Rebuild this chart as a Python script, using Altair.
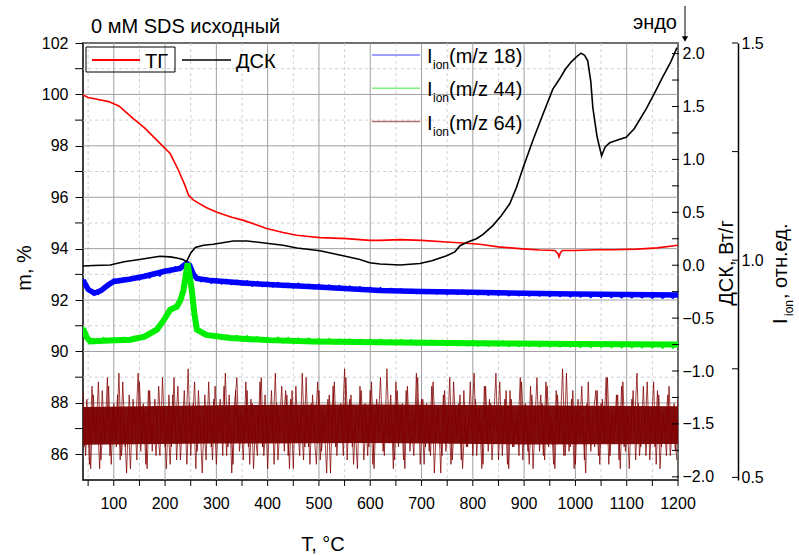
import altair as alt
import pandas as pd

# ---------------- data ----------------
# TG, mass %
tg_T = [40, 50, 70, 90, 110, 138, 160, 180, 195, 210, 226, 238, 246, 255, 262, 280, 301, 330, 353, 375,
        398, 430, 457, 480, 502, 554, 599, 619, 658, 700, 749, 780, 813, 850, 891, 930, 960, 966, 968, 971,
        975, 1000, 1040, 1073, 1120, 1160, 1200]
tg_m = [99.98, 99.88, 99.80, 99.72, 99.55, 99.06, 98.70, 98.30, 98.00, 97.70, 97.05, 96.50, 96.07, 95.90, 95.81, 95.60, 95.42, 95.22, 95.10, 94.95,
        94.78, 94.63, 94.52, 94.47, 94.43, 94.39, 94.32, 94.32, 94.35, 94.32, 94.26, 94.22, 94.17, 94.07, 94.00, 93.95, 93.93, 93.80, 93.68, 93.85,
        93.93, 93.93, 93.96, 93.96, 93.98, 94.03, 94.13]

# DSC, W/g
dsc_T = [40, 60, 93, 120, 150, 190, 210, 223, 235, 242, 250, 259, 275, 294, 333, 360, 398, 430, 457, 502,
         547, 580, 599, 619, 658, 697, 720, 749, 765, 775, 790, 807, 820, 839, 855, 872, 885, 898, 917, 935,
         956, 970, 980, 992, 1003, 1011, 1018, 1024, 1030, 1034, 1042, 1051, 1058, 1067, 1085, 1099, 1115, 1138, 1155, 1170,
         1185, 1198]
dsc_v = [-0.008, -0.003, 0.002, 0.033, 0.054, 0.085, 0.079, 0.068, 0.054, 0.033, 0.116, 0.167, 0.188, 0.198, 0.229, 0.229, 0.208, 0.188, 0.162, 0.136,
         0.090, 0.054, 0.023, 0.012, 0.002, 0.016, 0.043, 0.090, 0.126, 0.184, 0.219, 0.250, 0.291, 0.374, 0.466, 0.580, 0.735, 0.920, 1.178, 1.406,
         1.664, 1.767, 1.849, 1.922, 1.973, 2.004, 1.983, 1.932, 1.736, 1.488, 1.220, 1.034, 1.117, 1.158, 1.189, 1.209, 1.292, 1.478, 1.633, 1.777,
         1.911, 2.056]

# Ion current m/z 18: smooth course + noisy trace (10 °C sampling from 40 °C)
ms18_T = [40, 50, 62, 75, 90, 100, 130, 160, 197, 229, 242, 248, 255, 262, 290, 359, 420, 489, 550, 619,
          700, 800, 898, 1000, 1100, 1200]
ms18_v = [0.954, 0.933, 0.924, 0.930, 0.944, 0.951, 0.956, 0.963, 0.974, 0.981, 0.993, 0.988, 0.968, 0.958, 0.953, 0.947, 0.943, 0.939, 0.935, 0.930,
          0.928, 0.926, 0.924, 0.922, 0.921, 0.920]
ms18_noisy = [
    0.958, 0.929, 0.931, 0.921, 0.941, 0.938, 0.957, 0.948, 0.960, 0.951,
    0.963, 0.954, 0.968, 0.959, 0.973, 0.963, 0.980, 0.971, 0.985, 0.976,
    0.997, 0.980, 0.966, 0.950, 0.960, 0.947, 0.958, 0.945, 0.956, 0.944,
    0.954, 0.942, 0.953, 0.940, 0.951, 0.939, 0.950, 0.938, 0.949, 0.937,
    0.947, 0.936, 0.947, 0.935, 0.945, 0.934, 0.945, 0.933, 0.943, 0.932,
    0.942, 0.930, 0.941, 0.929, 0.939, 0.928, 0.938, 0.927, 0.937, 0.926,
    0.935, 0.925, 0.934, 0.924, 0.933, 0.923, 0.933, 0.923, 0.932, 0.922,
    0.932, 0.921, 0.931, 0.921, 0.931, 0.920, 0.930, 0.920, 0.930, 0.919,
    0.929, 0.919, 0.929, 0.918, 0.928, 0.918, 0.928, 0.917, 0.927, 0.917,
    0.927, 0.916, 0.926, 0.916, 0.926, 0.915, 0.925, 0.915, 0.925, 0.914,
    0.924, 0.914, 0.924, 0.914, 0.923, 0.913, 0.923, 0.913, 0.922, 0.913,
    0.922, 0.912, 0.922, 0.912, 0.921, 0.912, 0.921]

# Ion current m/z 44
ms44_T = [40, 47, 54, 90, 132, 160, 184, 198, 210, 223, 230, 236, 240, 244, 248, 252, 257, 262, 280, 327,
          400, 489, 619, 800, 1000, 1200]
ms44_v = [0.843, 0.823, 0.813, 0.815, 0.817, 0.824, 0.840, 0.863, 0.886, 0.893, 0.908, 0.932, 0.963, 0.993, 0.963, 0.932, 0.878, 0.840, 0.828, 0.821,
          0.816, 0.813, 0.811, 0.809, 0.807, 0.806]
ms44_noisy = [
    0.848, 0.818, 0.820, 0.809, 0.822, 0.811, 0.821, 0.812, 0.823, 0.811,
    0.825, 0.817, 0.830, 0.826, 0.843, 0.846, 0.872, 0.881, 0.898, 0.904,
    0.965, 0.945, 0.852, 0.830, 0.834, 0.822, 0.831, 0.818, 0.828, 0.815,
    0.827, 0.814, 0.826, 0.813, 0.824, 0.812, 0.823, 0.811, 0.823, 0.810,
    0.822, 0.809, 0.821, 0.809, 0.821, 0.808, 0.820, 0.808, 0.820, 0.807,
    0.819, 0.807, 0.819, 0.806, 0.818, 0.806, 0.818, 0.806, 0.818, 0.805,
    0.817, 0.805, 0.817, 0.805, 0.817, 0.804, 0.816, 0.804, 0.816, 0.804,
    0.816, 0.803, 0.815, 0.803, 0.815, 0.803, 0.815, 0.802, 0.814, 0.802,
    0.814, 0.802, 0.814, 0.801, 0.813, 0.801, 0.813, 0.801, 0.813, 0.800,
    0.812, 0.800, 0.812, 0.800, 0.812, 0.800, 0.811, 0.799, 0.811, 0.799,
    0.811, 0.799, 0.811, 0.799, 0.810, 0.798, 0.810, 0.798, 0.810, 0.798,
    0.809, 0.798, 0.809, 0.797, 0.809, 0.797, 0.808]
noisy_T = [40 + 10 * i for i in range(len(ms18_noisy))]

# Ion current m/z 64: dense core band + spikes (two interleaved 5 °C samplings)
ms64_band_T = [40, 300, 600, 900, 1200]
ms64_lo = [0.575, 0.578, 0.579, 0.576, 0.577]
ms64_hi = [0.662, 0.666, 0.668, 0.666, 0.664]
ms64_spikes_a = [
    0.70, 0.55, 0.66, 0.52, 0.69, 0.58, 0.72, 0.54, 0.64, 0.60, 0.71, 0.53, 0.67, 0.57, 0.74, 0.55, 0.63, 0.51, 0.69, 0.59,
    0.66, 0.54, 0.72, 0.58, 0.65, 0.52, 0.70, 0.56, 0.68, 0.61, 0.55, 0.73, 0.57, 0.64, 0.53, 0.69, 0.60, 0.71, 0.54, 0.66,
    0.58, 0.75, 0.55, 0.67, 0.52, 0.70, 0.59, 0.63, 0.54, 0.72, 0.57, 0.68, 0.53, 0.65, 0.60, 0.71, 0.55, 0.69, 0.51, 0.66,
    0.73, 0.56, 0.64, 0.58, 0.70, 0.53, 0.67, 0.61, 0.55, 0.72, 0.57, 0.69, 0.52, 0.66, 0.59, 0.74, 0.54, 0.63, 0.60, 0.70,
    0.55, 0.68, 0.52, 0.71, 0.58, 0.65, 0.54, 0.73, 0.57, 0.67, 0.61, 0.53, 0.70, 0.56, 0.64, 0.51, 0.69, 0.59, 0.72, 0.55,
    0.66, 0.60, 0.75, 0.54, 0.68, 0.57, 0.63, 0.52, 0.71, 0.58, 0.67, 0.55, 0.70, 0.53, 0.65, 0.61, 0.73, 0.56, 0.64, 0.59,
    0.69, 0.52, 0.72, 0.57, 0.66, 0.54, 0.70, 0.60, 0.63, 0.55, 0.74, 0.58, 0.68, 0.53, 0.67, 0.56, 0.71, 0.51, 0.65, 0.61,
    0.55, 0.70, 0.58, 0.73, 0.54, 0.66, 0.59, 0.69, 0.52, 0.64, 0.57, 0.72, 0.55, 0.68, 0.60, 0.63, 0.53, 0.71, 0.56, 0.67,
    0.61, 0.74, 0.54, 0.66, 0.58, 0.70, 0.52, 0.68, 0.57, 0.65, 0.55, 0.72, 0.59, 0.64, 0.53, 0.69, 0.60, 0.73, 0.56, 0.67,
    0.54, 0.71, 0.58, 0.63, 0.52, 0.69, 0.60, 0.75, 0.55, 0.66, 0.57, 0.70, 0.53, 0.68, 0.59, 0.64, 0.51, 0.72, 0.56, 0.65,
    0.70, 0.55, 0.67, 0.60, 0.73, 0.53, 0.64, 0.58, 0.69, 0.54, 0.71, 0.57, 0.66, 0.52, 0.68, 0.61, 0.74, 0.55, 0.63, 0.59,
    0.72, 0.54, 0.66, 0.57, 0.70, 0.52, 0.65, 0.60, 0.69, 0.55, 0.63, 0.56, 0.68]
ms64_spikes_b = [
    0.57, 0.68, 0.53, 0.71, 0.60, 0.65, 0.52, 0.70, 0.58, 0.73, 0.55, 0.66, 0.59, 0.69, 0.54, 0.72, 0.57, 0.64, 0.52, 0.68,
    0.61, 0.74, 0.56, 0.67, 0.53, 0.70, 0.58, 0.63, 0.55, 0.71, 0.60, 0.66, 0.52, 0.69, 0.57, 0.73, 0.54, 0.65, 0.59, 0.70,
    0.53, 0.67, 0.60, 0.72, 0.56, 0.64, 0.51, 0.69, 0.58, 0.66, 0.54, 0.71, 0.61, 0.68, 0.55, 0.74, 0.57, 0.63, 0.53, 0.70,
    0.59, 0.65, 0.54, 0.72, 0.57, 0.68, 0.52, 0.66, 0.60, 0.73, 0.55, 0.64, 0.58, 0.70, 0.53, 0.67, 0.61, 0.71, 0.56, 0.69,
    0.52, 0.70, 0.58, 0.64, 0.55, 0.74, 0.57, 0.66, 0.53, 0.69, 0.60, 0.72, 0.54, 0.65, 0.59, 0.68, 0.51, 0.71, 0.57, 0.63,
    0.67, 0.55, 0.73, 0.58, 0.69, 0.53, 0.66, 0.61, 0.70, 0.54, 0.64, 0.57, 0.72, 0.52, 0.68, 0.60, 0.65, 0.55, 0.75, 0.58,
    0.63, 0.54, 0.70, 0.59, 0.67, 0.52, 0.71, 0.56, 0.65, 0.60, 0.73, 0.53, 0.68, 0.57, 0.64, 0.55, 0.72, 0.58, 0.66, 0.51,
    0.69, 0.56, 0.65, 0.53, 0.72, 0.59, 0.67, 0.54, 0.70, 0.57, 0.64, 0.61, 0.74, 0.55, 0.66, 0.52, 0.71, 0.58, 0.68, 0.54,
    0.65, 0.60, 0.72, 0.55, 0.68, 0.53, 0.70, 0.57, 0.63, 0.59, 0.73, 0.54, 0.67, 0.56, 0.71, 0.52, 0.66, 0.61, 0.69, 0.55,
    0.72, 0.57, 0.64, 0.53, 0.70, 0.58, 0.66, 0.55, 0.74, 0.56, 0.68, 0.52, 0.65, 0.60, 0.71, 0.54, 0.67, 0.59, 0.63, 0.57,
    0.70, 0.53, 0.68, 0.58, 0.73, 0.55, 0.65, 0.61, 0.69, 0.52, 0.72, 0.56, 0.64, 0.59, 0.70, 0.54, 0.67, 0.57, 0.71, 0.55,
    0.66, 0.60, 0.72, 0.53, 0.69, 0.57, 0.64, 0.55, 0.71, 0.58, 0.67, 0.54]
ms64_T_a = [40 + 5 * i for i in range(len(ms64_spikes_a))]
ms64_T_b = [42.5 + 5 * i for i in range(len(ms64_spikes_b))]

# axis ticks / labels / grid
x_major = list(range(100, 1201, 100))
x_minor = list(range(50, 1201, 100))
m_major = list(range(86, 103, 2))
m_minor = list(range(87, 102, 2))
dsc_labels = [-2.0, -1.5, -1.0, -0.5, 0.0, 0.5, 1.0, 1.5, 2.0]
dsc_ticks = [-2.0, -1.75, -1.5, -1.25, -1.0, -0.75, -0.5, -0.25, 0.0, 0.25, 0.5, 0.75, 1.0, 1.25, 1.5, 1.75, 2.0]
ion_labels = [0.5, 1.0, 1.5]
ion_ticks = [0.5, 0.75, 1.0, 1.25, 1.5]

title_text = "0 мМ SDS исходный"
legend_left = ["ТГ", "ДСК"]
legend_ion = ["(m/z 18)", "(m/z 44)", "(m/z 64)"]

# ---------------- chart ----------------
W, H = 595, 437
FONT = "Liberation Sans"

df = pd.DataFrame
ANN = df({"a": [0]})

xs = alt.Scale(domain=[40, 1200], nice=False, zero=False)
ms = alt.Scale(domain=[85, 102], nice=False, zero=False)
ds = alt.Scale(domain=[-2.03, 2.10], nice=False, zero=False)
ios = alt.Scale(domain=[0.494, 1.5], nice=False, zero=False)

m_axis = alt.Axis(values=m_major, title=None, domain=False, grid=False,
                  tickSize=8, labelFontSize=16, labelPadding=7)
dsc_axis = alt.Axis(orient="right", values=dsc_labels, format=".1f", title=None, grid=False,
                    domain=False, tickSize=0, labelPadding=4, labelFontSize=16)
ion_axis = alt.Axis(orient="right", offset=60, values=ion_labels, format=".1f", title=None, grid=False,
                    domain=True, domainColor="black", domainWidth=1.5, tickSize=0, labelPadding=3,
                    labelFontSize=16)

X0 = alt.X("T:Q", scale=xs, axis=None)


def vrule(vals, color, y1, y2, dash=None, width=1.0):
    kw = dict(color=color, strokeWidth=width)
    if dash:
        kw["strokeDash"] = dash
    return alt.Chart(df({"v": vals})).mark_rule(**kw).encode(
        x=alt.X("v:Q", scale=xs, axis=None), y=alt.value(y1), y2=alt.value(y2))


def hrule(vals, scale, color, x1, x2, dash=None, width=1.0):
    kw = dict(color=color, strokeWidth=width)
    if dash:
        kw["strokeDash"] = dash
    return alt.Chart(df({"v": vals})).mark_rule(**kw).encode(
        y=alt.Y("v:Q", scale=scale, axis=None), x=alt.value(x1), x2=alt.value(x2))


def ion_line(T, v, color, width, opacity=1.0):
    return alt.Chart(df({"T": T, "v": v})).mark_line(
        color=color, strokeWidth=width, opacity=opacity, clip=True).encode(
        x=X0, y=alt.Y("v:Q", scale=ios, axis=None))


grid = [
    vrule(x_minor, "#d0d0d0", 0, H, dash=[3, 3]),
    hrule(m_minor, ms, "#d0d0d0", 0, W, dash=[3, 3]),
    vrule(x_major, "#a0a0a0", 0, H),
    hrule(m_major, ms, "#a0a0a0", 0, W),
]
ticks = [
    vrule(x_minor, "black", H, H + 6),
    vrule(x_major, "black", H, H + 6),
    hrule(m_minor, ms, "black", -8, 0),
    hrule(dsc_ticks, ds, "black", W - 6, W + 1),
    hrule(ion_ticks, ios, "black", W + 54, W + 60),
]
x_labels = alt.Chart(df({"v": x_major})).mark_text(
    fontSize=16, font=FONT, color="black", align="center", baseline="alphabetic").encode(
    x=alt.X("v:Q", scale=xs, axis=None), y=alt.value(H + 29), text=alt.Text("v:Q", format="d"))

band = alt.Chart(df({"T": ms64_band_T, "lo": ms64_lo, "hi": ms64_hi})).mark_area(
    color="#7b0000", opacity=0.95, clip=True).encode(x=X0, y=alt.Y("lo:Q", scale=ios, axis=None), y2="hi:Q")
spikes_a = ion_line(ms64_T_a, ms64_spikes_a, "#800000", 1, 0.75)
spikes_b = ion_line(ms64_T_b, ms64_spikes_b, "#800000", 1, 0.75)
blue = ion_line(ms18_T, ms18_v, "#0000ff", 5.5)
blue_n = ion_line(noisy_T, ms18_noisy, "#0000ff", 1.3)
green = alt.Chart(df({"T": ms44_T, "v": ms44_v})).mark_line(
    color="#00ee00", strokeWidth=6, clip=True).encode(x=X0, y=alt.Y("v:Q", scale=ios, axis=ion_axis))
green_n = ion_line(noisy_T, ms44_noisy, "#00ee00", 1.3)

tg = alt.Chart(df({"T": tg_T, "m": tg_m})).mark_line(color="#ff0000", strokeWidth=1.6, clip=True).encode(
    x=X0, y=alt.Y("m:Q", scale=ms, axis=m_axis))

dsc = alt.Chart(df({"T": dsc_T, "v": dsc_v})).mark_line(color="black", strokeWidth=1.6, clip=True).encode(
    x=X0, y=alt.Y("v:Q", scale=ds, axis=dsc_axis))


def txt(s, x, y, size=20, angle=0, align="left", baseline="alphabetic"):
    return alt.Chart(ANN).mark_text(text=s, fontSize=size, angle=angle, align=align,
                                    baseline=baseline, font=FONT, color="black").encode(
        x=alt.value(x), y=alt.value(y))


def seg(x1, x2, y, color, width=1.5):
    return alt.Chart(ANN).mark_rule(color=color, strokeWidth=width).encode(
        x=alt.value(x1), x2=alt.value(x2), y=alt.value(y))


ann = [
    txt(title_text, 8, -10, size=20),
    txt("эндо", 594, -14, size=20, align="right"),
    alt.Chart(ANN).mark_rule(color="black", strokeWidth=1).encode(
        x=alt.value(602), y=alt.value(-37), y2=alt.value(-3)),
    alt.Chart(ANN).mark_point(shape="triangle-down", filled=True, color="black", size=40, opacity=1).encode(
        x=alt.value(602), y=alt.value(-4)),
    alt.Chart(ANN).mark_rect(filled=False, stroke="black", strokeWidth=1).encode(
        x=alt.value(3), x2=alt.value(92), y=alt.value(4), y2=alt.value(29)),
    seg(9, 57, 17, "#ff0000", 2),
    txt(legend_left[0], 62, 25, size=20),
    seg(99, 148, 17, "black", 1.5),
    txt(legend_left[1], 153, 25, size=20),
]
ion_leg_colors = ["#7f7fff", "#7fef7f", "#b07070"]
for i, (lab, col) in enumerate(zip(legend_ion, ion_leg_colors)):
    yb = 20 + 33.3 * i
    ann += [
        seg(289, 337, yb - 8, col, 1.5),
        txt("I", 344, yb, size=20),
        txt("ion", 350, yb + 6, size=12),
        txt(lab, 366, yb, size=20),
    ]
ann += [
    txt("m, %", -52, 225, size=20, angle=270, align="center"),
    txt("T, °C", 240, 508, size=20, align="center"),
    txt("ДСК, Вт/г", 650, 220, size=20, angle=270, align="center"),
    txt("I", 704, 281, size=20, angle=270, align="left"),
    txt("ion", 710, 273, size=12, angle=270, align="left"),
    txt(", отн.ед.", 704, 256, size=20, angle=270, align="left"),
]

layers = grid + [band, spikes_a, spikes_b, blue, blue_n, green, green_n, tg, dsc] + ticks + [x_labels] + ann

chart = alt.layer(*layers).resolve_scale(y="independent").properties(
    width=W, height=H,
    autosize=alt.AutoSizeParams(type="none"),
    padding={"left": 83, "top": 43, "right": 121, "bottom": 75},
    background="white",
).configure_view(stroke="black", strokeWidth=1.5).configure_axis(
    labelFont=FONT, labelColor="black", tickColor="black", titleFont=FONT
).configure_text(font=FONT)

chart.save("out.html", embed_options={"renderer": "svg", "actions": False})
